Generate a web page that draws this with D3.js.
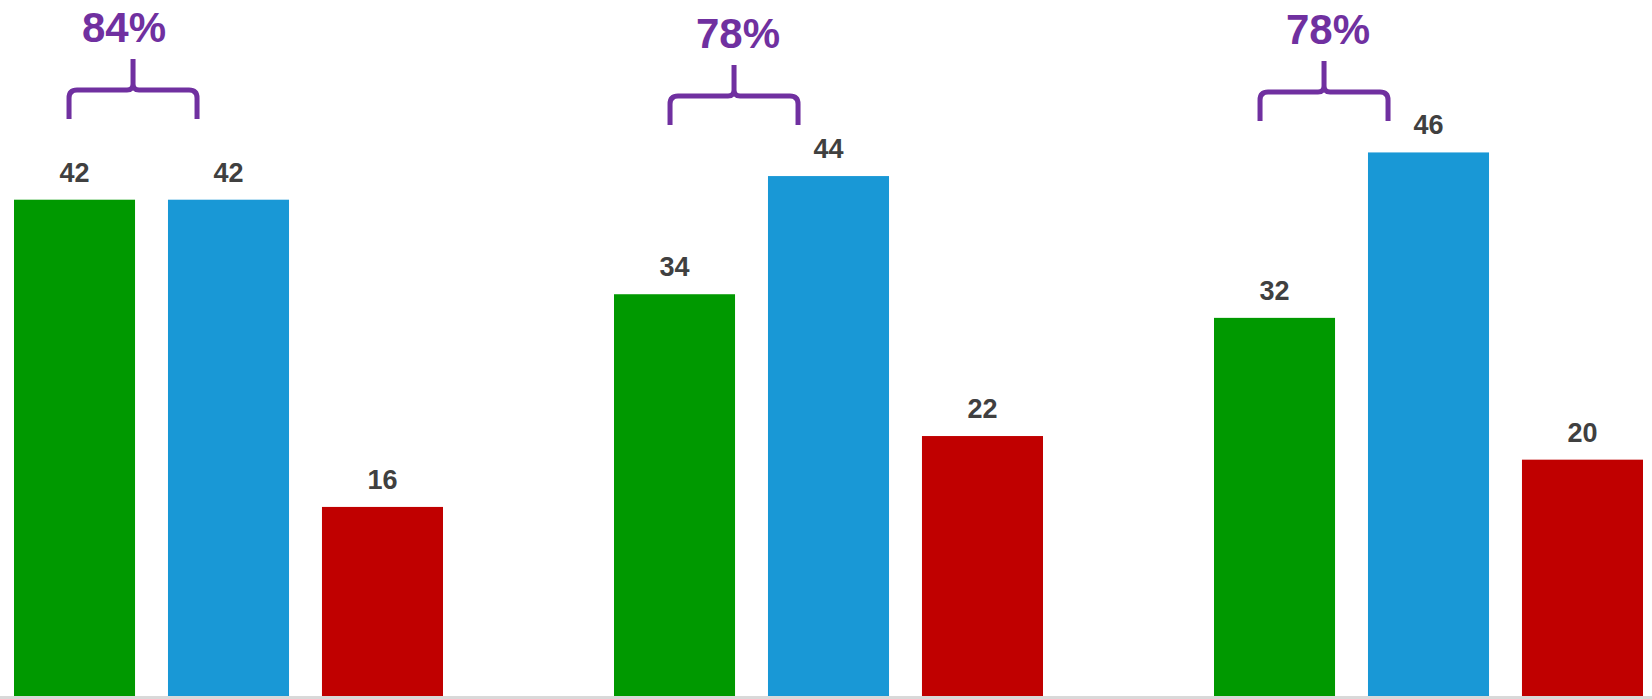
<!DOCTYPE html>
<html>
<head>
<meta charset="utf-8">
<script src="https://cdn.jsdelivr.net/npm/d3@7"></script>
<style>
  body { margin: 0; background: #fff; }
  svg { display: block; font-family: "Liberation Sans", Arial, sans-serif; }
</style>
</head>
<body>
<script>
// data
var groups = ["Group 1", "Group 2", "Group 3"]
var series = ["Green", "Blue", "Red"]
var greenValues = [42, 34, 32]
var blueValues = [42, 44, 46]
var redValues = [16, 22, 20]
var shareLabels = ["84%", "78%", "78%"]

var colors = ["#009900", "#1998d6", "#c00000"]

// brace placement (layout only): level of the bar of each brace, x nudges
var braceY = [90, 96, 92]
var braceDx = [-2, -1, -11]
var labelDx = [-9, 4, 4]

var width = 1652, height = 699
var baseline = 696

var svg = d3.select("body").append("svg")
  .attr("width", width)
  .attr("height", height)

var rows = groups.map(function(g, i) {
  return { group: g, values: [greenValues[i], blueValues[i], redValues[i]] }
})

var x0 = d3.scaleBand()
  .domain(groups)
  .range([14, 1643])
  .paddingInner(0.285)
  .paddingOuter(0)

var x1 = d3.scaleBand()
  .domain(series)
  .range([0, x0.bandwidth()])
  .paddingInner(0.214)
  .paddingOuter(0)

var y = d3.scaleLinear()
  .domain([0, 58.9])
  .range([baseline, 0])

// bars
var groupG = svg.selectAll("g.group")
  .data(rows)
  .enter().append("g")
  .attr("class", "group")
  .attr("transform", d => "translate(" + x0(d.group) + ",0)")

groupG.selectAll("rect")
  .data(d => d.values.map((v, i) => ({ series: series[i], value: v, color: colors[i] })))
  .enter().append("rect")
  .attr("x", d => x1(d.series))
  .attr("y", d => y(d.value))
  .attr("width", x1.bandwidth())
  .attr("height", d => baseline - y(d.value))
  .attr("fill", d => d.color)

groupG.selectAll("text.val")
  .data(d => d.values.map((v, i) => ({ series: series[i], value: v })))
  .enter().append("text")
  .attr("class", "val")
  .attr("x", d => x1(d.series) + x1.bandwidth() / 2)
  .attr("y", d => y(d.value) - 18)
  .attr("text-anchor", "middle")
  .attr("font-size", 27)
  .attr("font-weight", "bold")
  .attr("fill", "#404040")
  .text(d => d.value)

// bottom axis line, no ticks
var xAxis = svg.append("g")
  .attr("transform", "translate(0," + (baseline + 1.5) + ")")
  .call(d3.axisBottom(x0).tickSize(0).tickFormat(""))
xAxis.select(".domain")
  .attr("d", "M0,0H" + width)
  .attr("stroke", "#d9d9d9")
  .attr("stroke-width", 3)

// braces over green + blue bars
function bracePath(cx, yb, half) {
  var r = 8, drop = 29, tip = 31
  var l = cx - half, rr = cx + half
  return "M" + l + "," + (yb + drop) +
    " L" + l + "," + (yb + r) +
    " Q" + l + "," + yb + " " + (l + r) + "," + yb +
    " L" + (cx - 6) + "," + yb +
    " Q" + cx + "," + yb + " " + cx + "," + (yb - 6) +
    " L" + cx + "," + (yb - tip) +
    " M" + rr + "," + (yb + drop) +
    " L" + rr + "," + (yb + r) +
    " Q" + rr + "," + yb + " " + (rr - r) + "," + yb +
    " L" + (cx + 6) + "," + yb +
    " Q" + cx + "," + yb + " " + cx + "," + (yb - 6)
}

function braceX(d, i) {
  return x0(d.group) + x1.bandwidth() + braceDx[i]
}

var ann = svg.selectAll("g.ann")
  .data(rows)
  .enter().append("g")
  .attr("class", "ann")

ann.append("path")
  .attr("d", (d, i) => bracePath(braceX(d, i), braceY[i], 64))
  .attr("fill", "none")
  .attr("stroke", "#7030a0")
  .attr("stroke-width", 5)
  .attr("stroke-linejoin", "round")

ann.append("text")
  .attr("x", (d, i) => braceX(d, i) + labelDx[i])
  .attr("y", (d, i) => braceY[i] - 48)
  .attr("text-anchor", "middle")
  .attr("font-size", 42)
  .attr("font-weight", "bold")
  .attr("fill", "#7030a0")
  .text((d, i) => shareLabels[i])
</script>
</body>
</html>
